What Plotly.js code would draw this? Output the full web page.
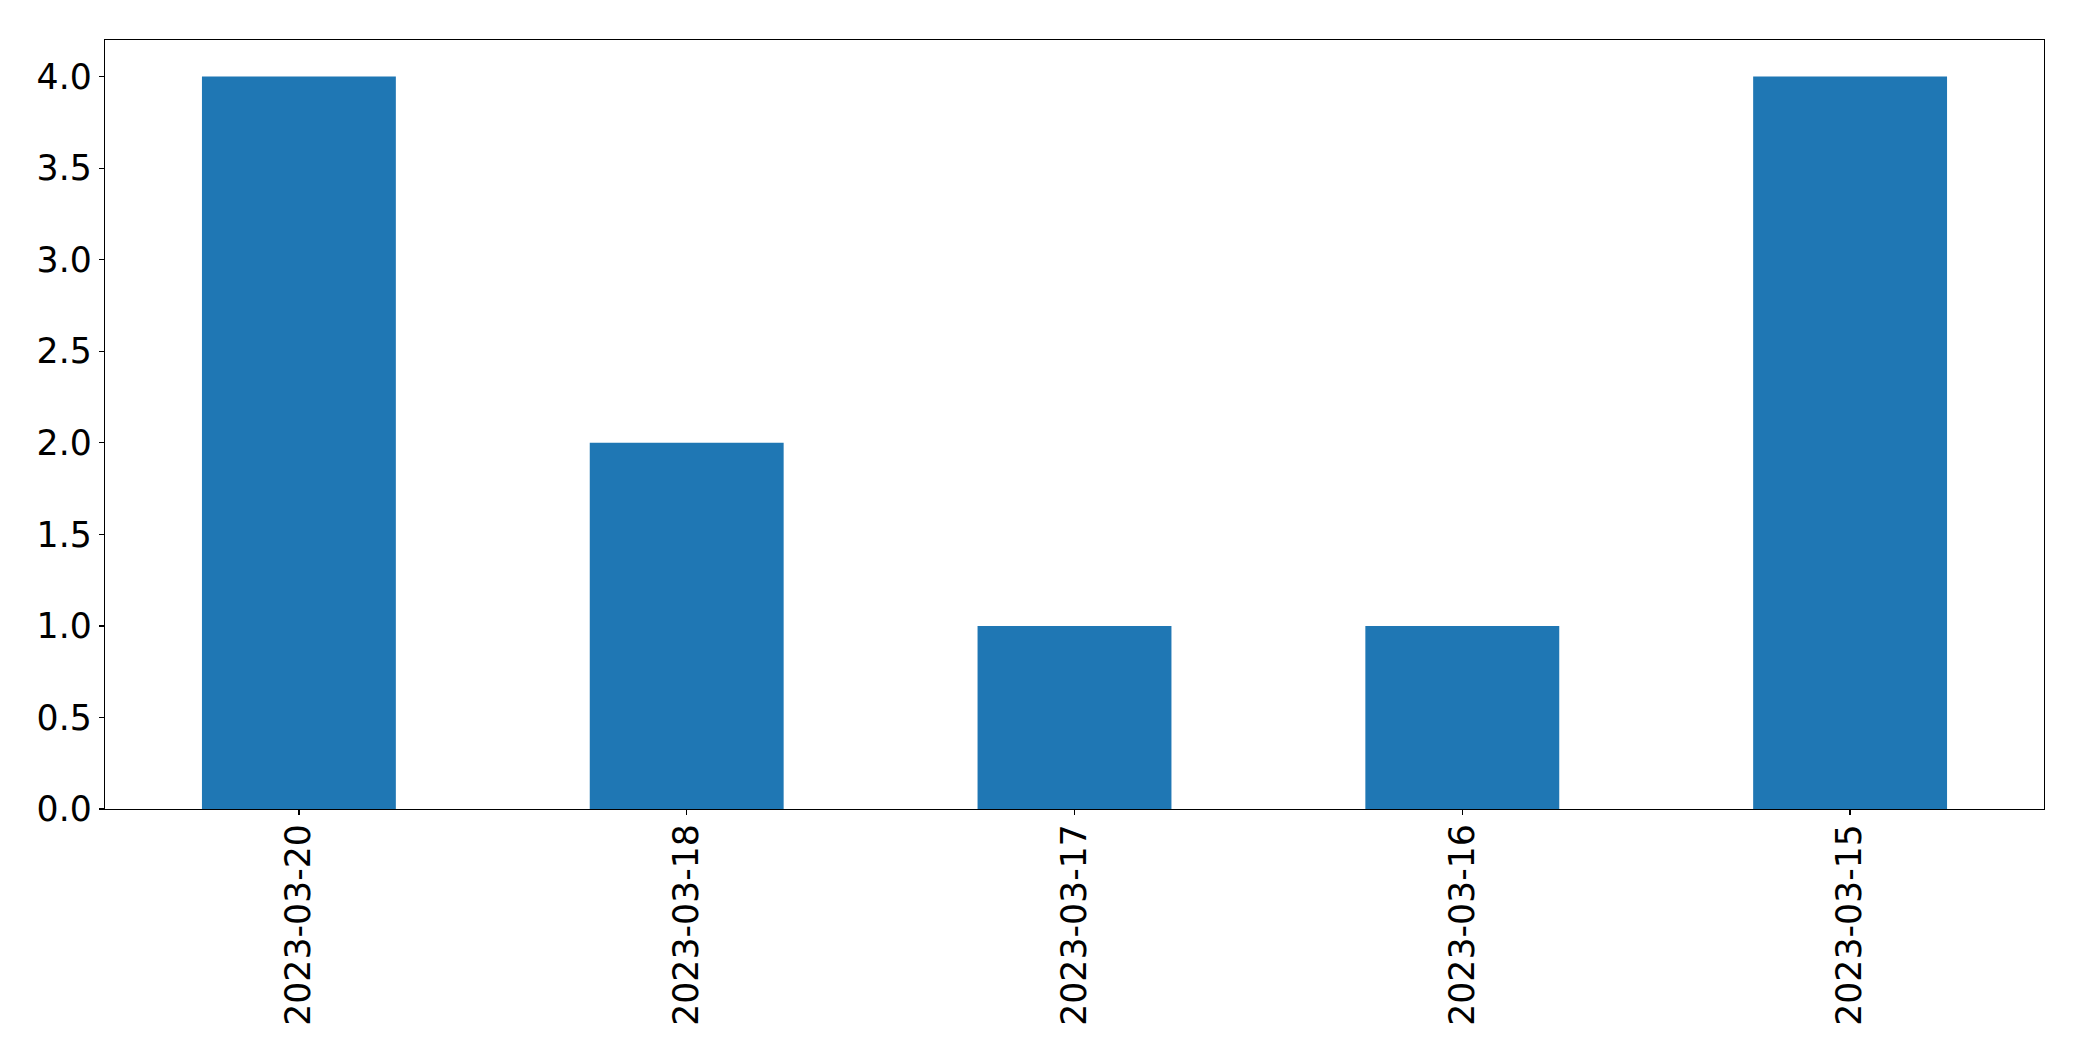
<!DOCTYPE html>
<html>
<head>
<meta charset="utf-8">
<script src="https://cdn.plot.ly/plotly-3.0.1.min.js"></script>
<style>html,body{margin:0;padding:0;background:#fff;}#chart{width:2082px;height:1061px;}</style>
</head>
<body>
<div id="chart"></div>
<script>
var categories = ["2023-03-20", "2023-03-18", "2023-03-17", "2023-03-16", "2023-03-15"];
var counts = [4, 2, 1, 1, 4];
var yTicks = [0, 0.5, 1, 1.5, 2, 2.5, 3, 3.5, 4];
var yTickText = ["0.0", "0.5", "1.0", "1.5", "2.0", "2.5", "3.0", "3.5", "4.0"];

var trace = {
  type: "bar",
  x: categories,
  y: counts,
  width: 0.5,
  marker: {color: "#1f77b4", line: {width: 0}},
  hoverinfo: "x+y"
};

var layout = {
  width: 2082,
  height: 1061,
  margin: {l: 105, r: 38, t: 40, b: 252, pad: 0},
  paper_bgcolor: "#ffffff",
  plot_bgcolor: "#ffffff",
  showlegend: false,
  font: {family: "DejaVu Sans", size: 34.7, color: "#000000"},
  xaxis: {
    type: "category",
    range: [-0.5, 4.5],
    tickangle: -90,
    ticks: "outside",
    ticklen: 5,
    tickwidth: 1.3,
    tickcolor: "#000",
    ticklabelstandoff: -5,
    showgrid: false,
    zeroline: false,
    showline: true,
    linecolor: "#000",
    linewidth: 1.3,
    mirror: true,
    tickfont: {family: "DejaVu Sans", size: 34.7, color: "#000"}
  },
  yaxis: {
    range: [0, 4.2],
    tickvals: yTicks,
    ticktext: yTickText,
    ticks: "outside",
    ticklen: 5,
    tickwidth: 1.3,
    tickcolor: "#000",
    showgrid: false,
    zeroline: false,
    showline: true,
    linecolor: "#000",
    linewidth: 1.3,
    mirror: true,
    tickfont: {family: "DejaVu Sans", size: 34.7, color: "#000"}
  }
};

Plotly.newPlot("chart", [trace], layout, {displayModeBar: false, staticPlot: true});
</script>
</body>
</html>
